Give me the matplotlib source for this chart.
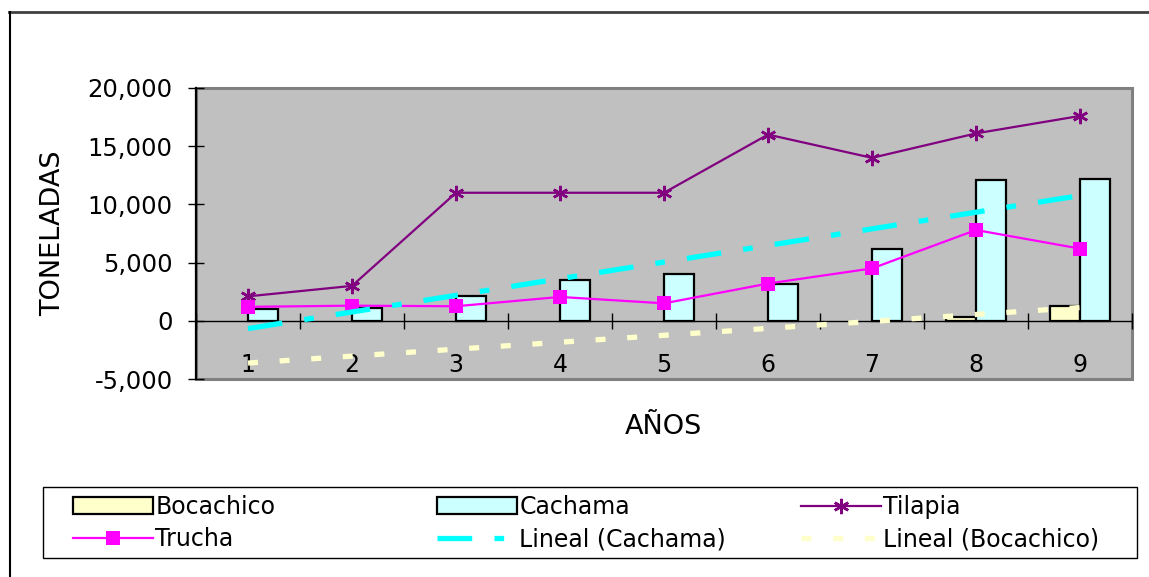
import numpy as np
import matplotlib
matplotlib.use("Agg")
import matplotlib.pyplot as plt
from matplotlib.patches import Rectangle
from matplotlib.lines import Line2D
from matplotlib.ticker import FuncFormatter, FixedLocator

plt.rcParams['font.family'] = ['DejaVu Sans']
plt.rcParams['lines.scale_dashes'] = False

# Producción piscícola (toneladas) por año
anios = np.arange(1, 10)
bocachico = [0, 0, 0, 0, 0, 0, 0, 350, 1250]
cachama = [1000, 1100, 2100, 3500, 4000, 3200, 6200, 12100, 12200]
tilapia = [2100, 3000, 11000, 11000, 11000, 16000, 14000, 16100, 17600]
trucha = [1200, 1300, 1250, 2050, 1500, 3200, 4500, 7800, 6200]

# Línea de tendencia de Bocachico (valores en los años 1 y 9)
anios_tendencia_bocachico = [1, 9]
tendencia_bocachico = [-3630, 1140]

y_ticks = [-5000, 0, 5000, 10000, 15000, 20000]

W, H = 1149, 577
fig = plt.figure(figsize=(W / 100, H / 100), dpi=100)
fig.patch.set_facecolor('white')


def fx(px):
    return px / W


def fy(py):
    return 1 - py / H


ax = fig.add_axes([fx(196), fy(379), fx(1132) - fx(196), fy(88) - fy(379)])
ax.set_facecolor('#C0C0C0')

ancho = 0.29
bordes_bocachico = [1.6 if v != 0 else 0 for v in bocachico]
ax.bar(anios - ancho, bocachico, width=ancho, align='edge',
       color='#FFFFCC', edgecolor='black', linewidth=bordes_bocachico,
       label='Bocachico', zorder=2)
ax.bar(anios, cachama, width=ancho, align='edge',
       color='#CCFFFF', edgecolor='black', linewidth=1.6, label='Cachama', zorder=2)

ax.plot(anios, tilapia, color='#800080', linewidth=1.6, marker=(6, 2, 0),
        markersize=11, markeredgewidth=1.8, label='Tilapia', zorder=3)
ax.plot(anios, trucha, color='#FF00FF', linewidth=1.6, marker='s',
        markersize=10.5, markeredgewidth=0, label='Trucha', zorder=3)

# Tendencia lineal de Cachama calculada por mínimos cuadrados
coef = np.polyfit(anios, cachama, 1)
extremos = anios[[0, -1]]
ax.plot(extremos, np.polyval(coef, extremos), color='#00FFFF', linewidth=3.8,
        linestyle=(0, (25, 16, 7, 16)), dash_capstyle='butt',
        label='Lineal (Cachama)', zorder=4)
ax.plot(anios_tendencia_bocachico, tendencia_bocachico, color='#FFFFCC',
        linewidth=3.8, linestyle=(0, (7.2, 15.6)), dash_capstyle='butt',
        label='Lineal (Bocachico)', zorder=4)

ax.set_xlim(0.5, 9.5)
ax.set_ylim(-5000, 20000)

# Ejes
for s in ('top', 'right'):
    ax.spines[s].set_visible(False)
ax.spines['bottom'].set_position(('data', 0))
ax.spines['bottom'].set_linewidth(1.0)
ax.spines['bottom'].set_zorder(1.5)
ax.spines['left'].set_linewidth(1.6)
ax.add_patch(Rectangle((0, 0), 1, 1, transform=ax.transAxes, fill=False,
                       edgecolor='#808080', linewidth=2.2, clip_on=False, zorder=0.5))

ax.xaxis.set_major_locator(FixedLocator(np.arange(0.5, 10, 1.0)))
ax.xaxis.set_minor_locator(FixedLocator(anios))
ax.xaxis.set_major_formatter(FuncFormatter(lambda v, p: ''))
ax.xaxis.set_minor_formatter(FuncFormatter(lambda v, p: f'{int(round(v))}'))
ax.tick_params(axis='x', which='major', direction='inout', length=12, width=1, color='black')
ax.tick_params(axis='x', which='minor', length=0, pad=23, labelsize=17)

ax.set_yticks(y_ticks)
ax.yaxis.set_major_formatter(FuncFormatter(lambda v, p: f'{v:,.0f}'))
ax.tick_params(axis='y', direction='inout', length=11.5, width=1, pad=11, labelsize=17.5)

fig.text(fx(53), fy(233), 'TONELADAS', rotation=90, ha='center', va='center', fontsize=19.5)
fig.text(fx(663), fy(427), 'AÑOS', ha='center', va='center', fontsize=19.5)

# Leyenda en tres columnas con marco común
handles, labels = ax.get_legend_handles_labels()
por_nombre = dict(zip(labels, handles))
columnas = [('Bocachico', 'Trucha'), ('Cachama', 'Lineal (Cachama)'),
            ('Tilapia', 'Lineal (Bocachico)')]
x_columnas = [73, 437, 801]
for nombres, xc in zip(columnas, x_columnas):
    leg = fig.legend([por_nombre[n] for n in nombres], list(nombres), loc='center left',
                     bbox_to_anchor=(fx(xc), fy(523)), bbox_transform=fig.transFigure,
                     frameon=False, borderpad=0, borderaxespad=0, fontsize=17,
                     handlelength=3.39, handletextpad=0.1, labelspacing=0.35, numpoints=1)
    for h in leg.legend_handles:
        if isinstance(h, Rectangle):
            h.set_linewidth(1.6)
fig.add_artist(Rectangle((fx(43), fy(558)), fx(1137) - fx(43), fy(487) - fy(558),
                         transform=fig.transFigure, fill=False, edgecolor='black', linewidth=1))

# Marco del gráfico
fig.add_artist(Line2D([fx(9), 1], [fy(12), fy(12)], transform=fig.transFigure,
                      color='#404040', linewidth=2))
fig.add_artist(Line2D([fx(10), fx(10)], [fy(12), 0], transform=fig.transFigure,
                      color='black', linewidth=1.5))

fig.savefig('out.png', dpi=100)
